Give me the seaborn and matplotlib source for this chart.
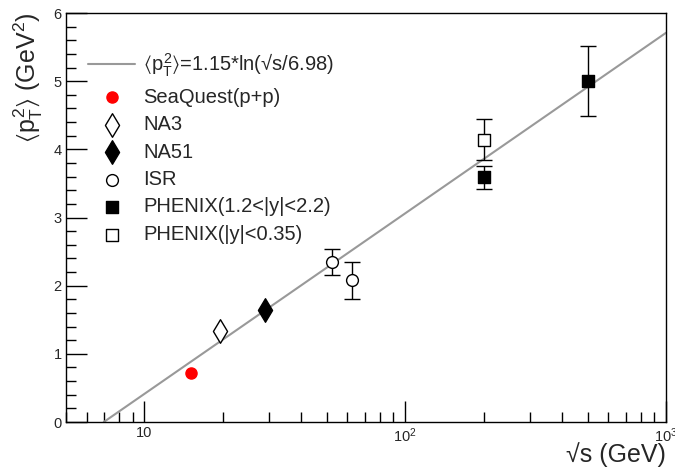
import numpy as np
import pandas as pd
import matplotlib
matplotlib.use("Agg")
import matplotlib.pyplot as plt
import seaborn as sns

sns.set_theme(style="white")
plt.rcParams["font.family"] = ["Liberation Sans", "DejaVu Sans"]
plt.rcParams["mathtext.fontset"] = "custom"
plt.rcParams["mathtext.rm"] = "Liberation Sans"
plt.rcParams["mathtext.it"] = "Liberation Sans"
plt.rcParams["mathtext.bf"] = "Liberation Sans:bold"
plt.rcParams["mathtext.fallback"] = "stixsans"

# Mean pT^2 of Drell-Yan pairs vs centre-of-mass energy
experiments = ["SeaQuest(p+p)", "NA3", "NA51", "ISR",
               "PHENIX(1.2<|y|<2.2)", "PHENIX(|y|<0.35)"]
sqrt_s = [[15.1], [19.4], [29.1], [52.4, 62.4], [200.0, 500.0], [200.0]]
pt2 = [[0.72], [1.33], [1.65], [2.35, 2.08], [3.59, 5.00], [4.14]]
pt2_err = [[0.0], [0.0], [0.0], [0.19, 0.27], [0.17, 0.51], [0.30]]

# Fit: <pT^2> = a * ln(sqrt(s) / s0)
fit_a = 1.15
fit_s0 = 6.98
fit_label = r"$\langle p_{T}^{2}\rangle$=1.15*ln(√s/6.98)"

styles = {
    "SeaQuest(p+p)": dict(marker="o", fc="red", ec="red", ms=8.0),
    "NA3": dict(marker="d", fc="white", ec="black", ms=12.0),
    "NA51": dict(marker="d", fc="black", ec="black", ms=12.0),
    "ISR": dict(marker="o", fc="white", ec="black", ms=8.5),
    "PHENIX(1.2<|y|<2.2)": dict(marker="s", fc="black", ec="black", ms=8.0),
    "PHENIX(|y|<0.35)": dict(marker="s", fc="white", ec="black", ms=8.0),
}

fig = plt.figure(figsize=(6.75, 4.72), dpi=100)
ax = fig.add_axes([66 / 675, 50 / 472, 600 / 675, 409 / 472])

# fit curve
xf = np.logspace(np.log10(fit_s0), 3, 300)
fit_df = pd.DataFrame({"x": xf, "y": fit_a * np.log(xf / fit_s0)})
sns.lineplot(data=fit_df, x="x", y="y", ax=ax, color="#999999", lw=1.5,
             label=fit_label, zorder=2)

for name, xs, ys, es in zip(experiments, sqrt_s, pt2, pt2_err):
    st = styles[name]
    df = pd.DataFrame({"x": xs, "y": ys, "err": es})
    if np.any(df["err"] > 0):
        ax.errorbar(df["x"], df["y"], yerr=df["err"], fmt="none",
                    ecolor="black", elinewidth=1.0, capsize=5.5,
                    capthick=1.0, zorder=3)
    sns.scatterplot(data=df, x="x", y="y", ax=ax, marker=st["marker"],
                    s=st["ms"] ** 2, facecolor=st["fc"], edgecolor=st["ec"],
                    linewidth=1.0, label=name, zorder=4)

ax.set_xscale("log")
ax.set_xlim(5, 1000)
ax.set_ylim(0, 6)

ax.set_xticks([10, 100, 1000])
ax.set_xticklabels(["10", r"$10^{2}$", r"$10^{3}$"])
ax.xaxis.set_minor_locator(matplotlib.ticker.LogLocator(base=10, subs=np.arange(2, 10)))
ax.xaxis.set_minor_formatter(matplotlib.ticker.NullFormatter())
ax.set_yticks(np.arange(0, 7, 1))
ax.yaxis.set_minor_locator(matplotlib.ticker.MultipleLocator(0.2))

ax.tick_params(which="major", direction="in", length=15, width=1.0,
               labelsize=10.5, pad=3, top=False, right=False, color="black")
ax.tick_params(which="minor", direction="in", length=7.5, width=1.0,
               top=False, right=False, color="black")
ax.tick_params(axis="x", which="both", bottom=True, pad=3)
ax.tick_params(axis="y", which="both", left=True)
for sp in ax.spines.values():
    sp.set_color("black")
    sp.set_linewidth(1.0)

ax.set_xlabel("√s (GeV)", fontsize=18, ha="right")
ax.xaxis.set_label_coords(1.0, -0.05)
ax.set_ylabel(r"$\langle p_{T}^{2}\rangle$ (GeV$^{2}$)", fontsize=18,
              loc="top", labelpad=6)

leg = ax.legend(loc="upper left", bbox_to_anchor=(0.023, 0.925), frameon=False,
                fontsize=14.5, handlelength=2.35, handletextpad=0.4,
                labelspacing=0.42, borderaxespad=0.0)

fig.savefig("out.png", dpi=100)
